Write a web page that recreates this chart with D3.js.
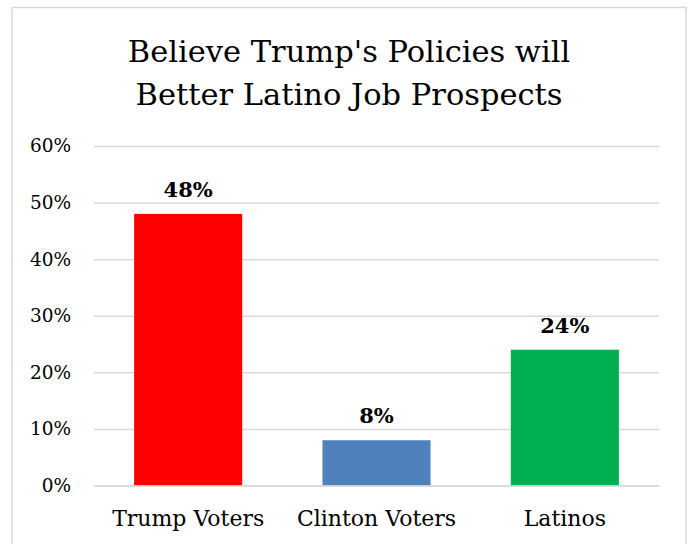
<!DOCTYPE html>
<html lang="en">
	<head>
		<meta charset="utf-8">
		<title>Trump Policies Chart</title>
		<script type="text/javascript" src="https://d3js.org/d3.v7.min.js"></script>
		<style type="text/css">
			body { margin:0; background:#fff; }
		</style>
	</head>
	<body>
		<svg id="chart"></svg>
		<script type="text/javascript">
			var categories = ["Trump Voters","Clinton Voters","Latinos"];
			var values = [0.48,0.08,0.24];
			var colors = ["#FF0000","#4F81BD","#00B050"];
			var tickValues = [0,0.1,0.2,0.3,0.4,0.5,0.6];
			var titleLines = ["Believe Trump's Policies will","Better Latino Job Prospects"];

			// Liberation Serif falls back to a sans here, so DejaVu Serif sized down to Times widths
			var serif = "'DejaVu Serif', serif";
			var w=690;
			var h=544;
			var plot={left:94,right:659,top:146,bottom:485.5};

			var svg = d3.select("#chart")
				.attr("width",w)
				.attr("height",h);

			// chart border
			svg.append("rect")
				.attr("x",12)
				.attr("y",7.5)
				.attr("width",674)
				.attr("height",560)
				.attr("fill","#fff")
				.attr("stroke","#d9d9d9")
				.attr("stroke-width",1.5);

			svg.selectAll("text.title")
				.data(titleLines)
				.enter()
				.append("text")
				.attr("class","title")
				.attr("x",349)
				.attr("y",(d,i)=>62+i*43)
				.attr("text-anchor","middle")
				.style("font-family",serif)
				.style("font-size","30.5px")
				.text(d=>d);

			var xScale = d3.scaleBand()
				.domain(categories)
				.range([plot.left,plot.right])
				.paddingInner(0.426)
				.paddingOuter(0.213);

			var yScale = d3.scaleLinear()
				.domain([0,0.6])
				.range([plot.bottom,plot.top]);

			var yAxis = d3.axisLeft(yScale)
				.tickValues(tickValues)
				.tickFormat(d3.format(".0%"))
				.tickSize(-(plot.right-plot.left))
				.tickPadding(23);

			var gy = svg.append("g")
				.attr("transform","translate("+plot.left+",0)")
				.call(yAxis);
			gy.select(".domain").remove();
			gy.selectAll("line").attr("stroke","#d9d9d9").attr("stroke-width",1.5);
			gy.selectAll("text")
				.style("font-family",serif)
				.style("font-size","18.5px")
				.attr("fill","#000");

			var data = categories.map((c,i)=>({cat:c,val:values[i],col:colors[i]}));

			svg.selectAll("rect.bar")
				.data(data)
				.enter()
				.append("rect")
				.attr("class","bar")
				.attr("x",d=>xScale(d.cat))
				.attr("y",d=>yScale(d.val))
				.attr("width",xScale.bandwidth())
				.attr("height",d=>yScale(0)-yScale(d.val))
				.attr("fill",d=>d.col);

			svg.selectAll("text.val")
				.data(data)
				.enter()
				.append("text")
				.attr("class","val")
				.attr("x",d=>xScale(d.cat)+xScale.bandwidth()/2)
				.attr("y",d=>yScale(d.val)-17)
				.attr("text-anchor","middle")
				.style("font-family",serif)
				.style("font-size","21px")
				.style("font-weight","bold")
				.text(d=>d3.format(".0%")(d.val));

			var xAxis = d3.axisBottom(xScale)
				.tickSize(0)
				.tickPadding(25);

			var gx = svg.append("g")
				.attr("transform","translate(0,"+plot.bottom+")")
				.call(xAxis);
			gx.select(".domain").attr("stroke","#d9d9d9").attr("stroke-width",1.5);
			gx.selectAll("text")
				.style("font-family",serif)
				.style("font-size","22px")
				.attr("fill","#000");
		</script>
	</body>
</html>
